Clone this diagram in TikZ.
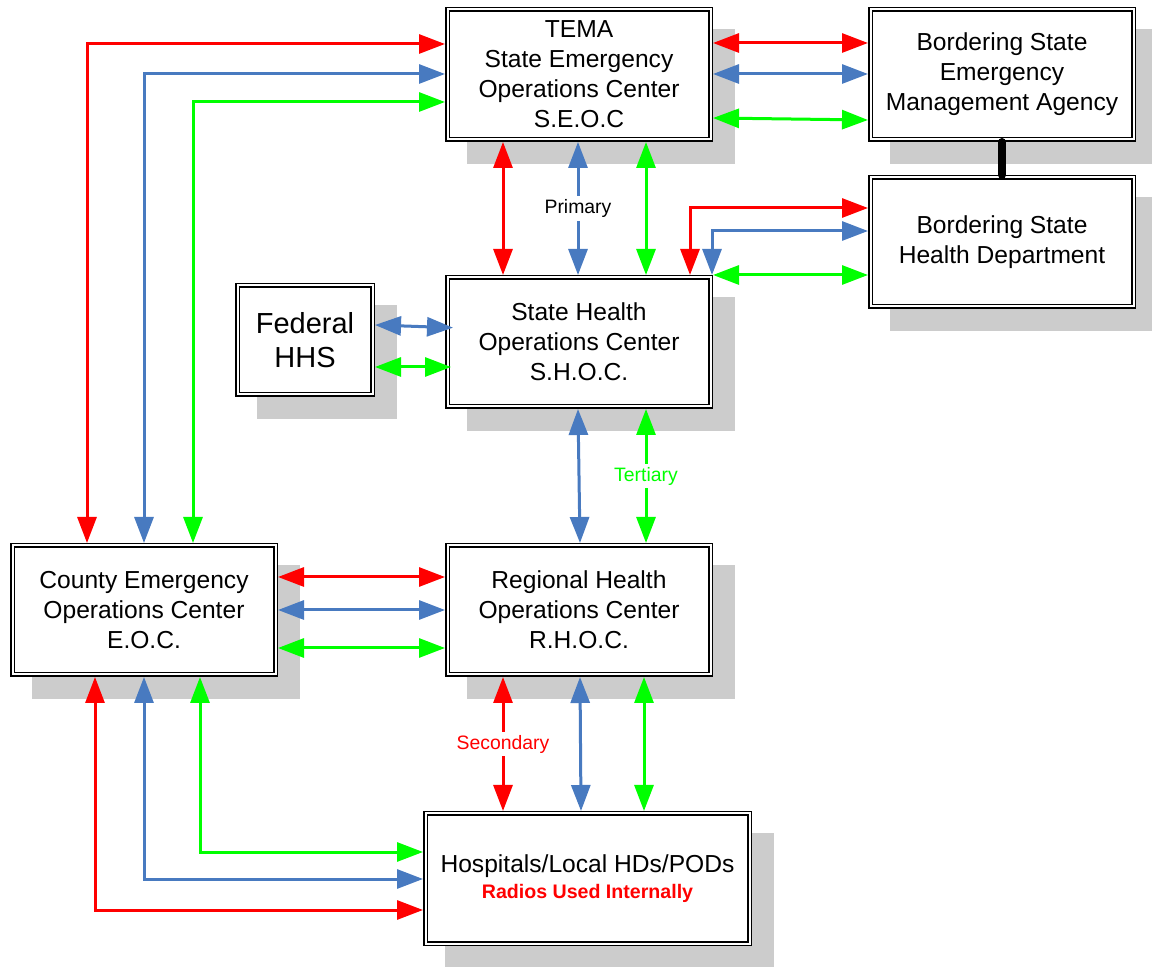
\documentclass[tikz,border=0pt]{standalone}
\usepackage{fontspec}
\setmainfont{Liberation Sans}
\usetikzlibrary{arrows.meta,backgrounds}
\definecolor{cred}{RGB}{255,0,0}
\definecolor{cblue}{RGB}{72,122,192}
\definecolor{cgreen}{RGB}{0,255,0}
\definecolor{shade}{RGB}{204,204,204}
\tikzset{
  box/.style={draw=black, fill=white, double=white, line width=0.75pt, double distance=1pt,
    inner sep=0pt, outer sep=1.25pt, align=center, font=\fontsize{12.3}{15}\selectfont},
  ar/.style={line width=1.5pt, {Triangle[length=13pt,width=9.5pt]}-{Triangle[length=13pt,width=9.5pt]}},
  lab/.style={fill=white, inner sep=1.5pt, font=\fontsize{9.7}{11}\selectfont},
  shadowfill/.style={fill=shade}
}
\begin{document}
\begin{tikzpicture}[x=0.5pt,y=-0.5pt]
\useasboundingbox (0,0) rectangle (1152,967);
% boxes
\node[box, minimum width=131.5pt, minimum height=65pt] (tema) at (579,74.5)
  {TEMA\\State Emergency\\Operations Center\\S.E.O.C};
\node[box, minimum width=131.5pt, minimum height=65pt] (bsema) at (1002,74.5)
  {Bordering State\\Emergency\\Management Agency};
\node[box, minimum width=131.5pt, minimum height=64.5pt] (bshd) at (1002,242)
  {Bordering State\\Health Department};
\node[box, minimum width=131.5pt, minimum height=64.5pt] (shoc) at (579,342)
  {State Health\\Operations Center\\S.H.O.C.};
\node[box, minimum width=67.5pt, minimum height=54.5pt, font=\fontsize{14.5}{17.2}\selectfont] (fed) at (305,340)
  {Federal\\HHS};
\node[box, minimum width=131.5pt, minimum height=64.5pt] (ceoc) at (144,610)
  {County Emergency\\Operations Center\\E.O.C.};
\node[box, minimum width=131.5pt, minimum height=64.5pt] (rhoc) at (579,610)
  {Regional Health\\Operations Center\\R.H.O.C.};
\node[box, minimum width=162pt, minimum height=65pt] (hosp) at (587.5,878.5)
  {Hospitals/Local HDs/PODs\\[-2.3pt]{\fontsize{9.8}{11}\selectfont\bfseries\color{cred}Radios Used Internally}};
% shadows
\begin{scope}[on background layer]
\foreach \n in {tema,bsema,bshd,shoc,fed,ceoc,rhoc,hosp}{
  \fill[shadowfill] ([shift={(22,22)}]\n.north west) rectangle ([shift={(22,22)}]\n.south east);
}
\end{scope}
% lane coordinates
\coordinate (l1) at (87,44);
\coordinate (l2) at (144,74);
\coordinate (l3) at (193,102);
\coordinate (t1) at (0,43);
\coordinate (t2) at (0,74);
\coordinate (g1a) at (0,118);
\coordinate (g1b) at (0,120);
\coordinate (v1) at (503,0);
\coordinate (v2) at (578,0);
\coordinate (v3) at (646,0);
\coordinate (b1) at (690,208);
\coordinate (b2) at (712,231);
\coordinate (f1a) at (0,325);
\coordinate (f1b) at (453,327.7);
\coordinate (f2a) at (0,367);
\coordinate (f2b) at (451,367);
\coordinate (s1) at (578,0);
\coordinate (s2) at (580,0);
\coordinate (s3) at (646,0);
\coordinate (h1) at (0,577);
\coordinate (h2) at (0,610);
\coordinate (h3) at (0,648);
\coordinate (r1) at (503,0);
\coordinate (r2a) at (580,0);
\coordinate (r2b) at (581,0);
\coordinate (r3) at (644,0);
\coordinate (k1) at (95,910);
\coordinate (k2) at (144,879);
\coordinate (k3) at (200,852);
% TEMA <-> County EOC
\draw[ar, cred] (tema.west |- l1) -| (ceoc.north -| l1);
\draw[ar, cblue] (tema.west |- l2) -| (ceoc.north -| l2);
\draw[ar, cgreen] (tema.west |- l3) -| (ceoc.north -| l3);
% TEMA <-> Bordering State EMA
\draw[ar, cred] (tema.east |- t1) -- (bsema.west |- t1);
\draw[ar, cblue] (tema.east |- t2) -- (bsema.west |- t2);
\draw[ar, cgreen] (tema.east |- g1a) -- (bsema.west |- g1b);
% BSEMA -- BSHD
\draw[line width=4pt, line cap=round] (bsema.south) -- (bshd.north);
% TEMA <-> SHOC
\draw[ar, cred] (tema.south -| v1) -- (shoc.north -| v1);
\draw[ar, cblue] (tema.south -| v2) -- node[lab, text=black] (prim) {Primary} (shoc.north -| v2);
\draw[ar, cgreen] (tema.south -| v3) -- (shoc.north -| v3);
% SHOC <-> BSHD
\draw[ar, cred] (shoc.north -| b1) |- (bshd.west |- b1);
\draw[ar, cblue] (shoc.north -| b2) |- (bshd.west |- b2);
\draw[ar, cgreen] (shoc.north east) -- (bshd.west |- shoc.north east);
% Federal <-> SHOC
\draw[ar, cblue] (fed.east |- f1a) -- (f1b);
\draw[ar, cgreen] (fed.east |- f2a) -- (f2b);
% SHOC <-> RHOC
\draw[ar, cblue] (shoc.south -| s1) -- (rhoc.north -| s2);
\draw[ar, cgreen] (shoc.south -| s3) -- node[lab, text=cgreen] (tert) {Tertiary} (rhoc.north -| s3);
% County <-> RHOC
\draw[ar, cred] (ceoc.east |- h1) -- (rhoc.west |- h1);
\draw[ar, cblue] (ceoc.east |- h2) -- (rhoc.west |- h2);
\draw[ar, cgreen] (ceoc.east |- h3) -- (rhoc.west |- h3);
% RHOC <-> Hospitals
\draw[ar, cred] (rhoc.south -| r1) -- node[lab, text=cred] (sec) {Secondary} (hosp.north -| r1);
\draw[ar, cblue] (rhoc.south -| r2a) -- (hosp.north -| r2b);
\draw[ar, cgreen] (rhoc.south -| r3) -- (hosp.north -| r3);
% County <-> Hospitals
\draw[ar, cred] (ceoc.south -| k1) |- (hosp.west |- k1);
\draw[ar, cblue] (ceoc.south -| k2) |- (hosp.west |- k2);
\draw[ar, cgreen] (ceoc.south -| k3) |- (hosp.west |- k3);
\end{tikzpicture}
\end{document}
